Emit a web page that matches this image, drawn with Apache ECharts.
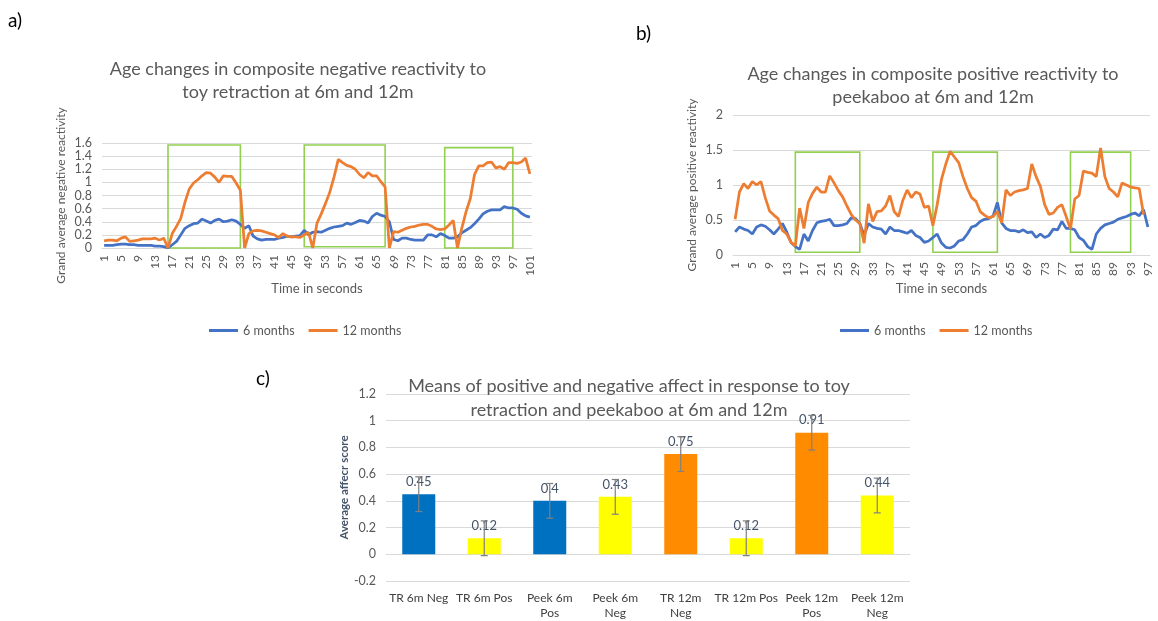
<!DOCTYPE html>
<html>
<head>
<meta charset="utf-8">
<script src="https://cdn.jsdelivr.net/npm/echarts@6/dist/echarts.min.js"></script>
<style>
  html, body { margin: 0; padding: 0; background: #ffffff; }
  #fig { width: 1158px; height: 621px; }
</style>
</head>
<body>
<div id="fig"></div>
<script>
// ---- data -------------------------------------------------------------
// (a) toy retraction: composite negative reactivity, one value per second
const secondsA = Array.from({ length: 101 }, (_, i) => String(i + 1));
const negative6m = [
  0.04, 0.04, 0.04, 0.05, 0.06, 0.06, 0.05, 0.05, 0.04, 0.04,
  0.04, 0.04, 0.03, 0.03, 0.02, 0.00, 0.05, 0.10, 0.20, 0.30,
  0.34, 0.37, 0.38, 0.44, 0.41, 0.38, 0.42, 0.44, 0.40, 0.41,
  0.43, 0.41, 0.36, 0.30, 0.34, 0.18, 0.14, 0.12, 0.13, 0.13,
  0.13, 0.15, 0.16, 0.18, 0.17, 0.18, 0.19, 0.27, 0.20, 0.24,
  0.25, 0.24, 0.27, 0.30, 0.32, 0.33, 0.34, 0.38, 0.36, 0.39,
  0.42, 0.41, 0.38, 0.48, 0.53, 0.50, 0.48, 0.40, 0.13, 0.11,
  0.15, 0.15, 0.13, 0.12, 0.12, 0.12, 0.20, 0.20, 0.17, 0.22,
  0.19, 0.15, 0.15, 0.17, 0.23, 0.27, 0.31, 0.37, 0.44, 0.52,
  0.56, 0.58, 0.58, 0.58, 0.63, 0.61, 0.61, 0.59, 0.53, 0.49,
  0.47
];
const negative12m = [
  0.11, 0.12, 0.12, 0.11, 0.15, 0.17, 0.10, 0.11, 0.12, 0.14,
  0.14, 0.14, 0.15, 0.12, 0.15, 0.00, 0.22, 0.33, 0.45, 0.70,
  0.90, 0.99, 1.04, 1.10, 1.15, 1.14, 1.08, 1.00, 1.10, 1.09,
  1.09, 0.99, 0.88, 0.00, 0.22, 0.26, 0.27, 0.26, 0.24, 0.22,
  0.20, 0.16, 0.22, 0.18, 0.17, 0.17, 0.16, 0.20, 0.24, 0.00,
  0.38, 0.52, 0.68, 0.85, 1.08, 1.35, 1.30, 1.26, 1.24, 1.20,
  1.12, 1.07, 1.15, 1.10, 1.10, 1.01, 0.93, 0.00, 0.25, 0.24,
  0.27, 0.30, 0.32, 0.33, 0.35, 0.36, 0.36, 0.33, 0.29, 0.28,
  0.29, 0.35, 0.42, 0.00, 0.30, 0.55, 0.75, 1.12, 1.25, 1.25,
  1.30, 1.31, 1.22, 1.24, 1.20, 1.30, 1.30, 1.29, 1.31, 1.37,
  1.13
];
// retraction windows: [first second, last second, top, bottom]
const retractionWindows = [
  ['16', '33', 1.57, -0.04],
  ['48', '67', 1.57, 0.02],
  ['81', '97', 1.53, -0.06]
];

// (b) peekaboo: composite positive reactivity, one value per second
const secondsB = Array.from({ length: 97 }, (_, i) => String(i + 1));
const positive6m = [
  0.33, 0.40, 0.37, 0.35, 0.30, 0.40, 0.43, 0.41, 0.36, 0.30,
  0.37, 0.45, 0.33, 0.18, 0.12, 0.08, 0.30, 0.20, 0.35, 0.46,
  0.48, 0.49, 0.51, 0.42, 0.42, 0.43, 0.45, 0.53, 0.52, 0.45,
  0.28, 0.45, 0.40, 0.38, 0.37, 0.30, 0.40, 0.35, 0.35, 0.33,
  0.31, 0.35, 0.28, 0.25, 0.18, 0.20, 0.25, 0.30, 0.17, 0.11,
  0.10, 0.13, 0.20, 0.22, 0.30, 0.40, 0.42, 0.48, 0.51, 0.52,
  0.56, 0.75, 0.46, 0.38, 0.35, 0.35, 0.33, 0.36, 0.32, 0.33,
  0.25, 0.30, 0.25, 0.28, 0.37, 0.36, 0.48, 0.38, 0.38, 0.36,
  0.25, 0.21, 0.12, 0.08, 0.30, 0.38, 0.43, 0.45, 0.47, 0.51,
  0.53, 0.55, 0.58, 0.60, 0.56, 0.65, 0.40
];
const positive12m = [
  0.51, 0.90, 1.02, 0.95, 1.05, 1.00, 1.05, 0.82, 0.63, 0.57,
  0.52, 0.35, 0.30, 0.18, 0.13, 0.67, 0.38, 0.75, 0.88, 0.97,
  0.90, 0.90, 1.13, 1.03, 0.92, 0.83, 0.70, 0.58, 0.50, 0.45,
  0.17, 0.73, 0.48, 0.62, 0.63, 0.70, 0.85, 0.62, 0.55, 0.78,
  0.93, 0.82, 0.90, 0.87, 0.68, 0.70, 0.42, 0.72, 1.08, 1.30,
  1.48, 1.40, 1.32, 1.12, 0.95, 0.82, 0.77, 0.62, 0.57, 0.53,
  0.55, 0.62, 0.46, 0.93, 0.85, 0.90, 0.92, 0.93, 0.95, 1.30,
  1.12, 0.98, 0.72, 0.58, 0.60, 0.68, 0.72, 0.55, 0.37, 0.80,
  0.85, 1.20, 1.18, 1.17, 1.12, 1.53, 1.12, 0.95, 0.90, 0.83,
  1.03, 1.00, 0.97, 0.96, 0.95, 0.58
];
const peekabooWindows = [
  ['15', '30', 1.47, 0.04],
  ['47', '62', 1.47, 0.04],
  ['79', '93', 1.47, 0.04]
];

// (c) mean affect per condition, with standard error
const affectCategories = [
  'TR 6m Neg', 'TR 6m Pos', 'Peek 6m\nPos', 'Peek 6m\nNeg',
  'TR 12m\nNeg', 'TR 12m Pos', 'Peek 12m\nPos', 'Peek 12m\nNeg'
];
const affectMeans = [0.45, 0.12, 0.4, 0.43, 0.75, 0.12, 0.91, 0.44];
const affectErrors = [0.13, 0.13, 0.13, 0.13, 0.13, 0.13, 0.13, 0.13];
// which group each bar belongs to (target affect at 6m / 12m, or the other affect)
const affectGroup = ['6m', 'other', '6m', 'other', '12m', 'other', '12m', 'other'];

// ---- styling ----------------------------------------------------------
const FONT = 'Lato, "Open Sans", "Noto Sans", sans-serif';
const GRAY = '#595959';
const GRIDLINE = '#D9D9D9';
const BLUE = '#4472C4';
const ORANGE = '#ED7D31';
const GREEN = '#92D050';
const GROUP_COLORS = { '6m': '#0070C0', '12m': '#FF8C00', other: '#FFFF00' };

function timeAxis(gridIndex, cats, nameGap) {
  return {
    gridIndex, type: 'category', data: cats, boundaryGap: true,
    axisTick: { show: false },
    axisLine: { lineStyle: { color: GRIDLINE } },
    axisLabel: { rotate: 90, interval: 3, fontSize: 12, color: GRAY, fontFamily: FONT, margin: 7 },
    name: 'Time in seconds', nameLocation: 'middle', nameGap,
    nameTextStyle: { fontSize: 13, color: GRAY, fontFamily: FONT }
  };
}
function valueAxis(gridIndex, min, max, interval, name) {
  return {
    gridIndex, type: 'value', min, max, interval,
    axisLine: { show: false }, axisTick: { show: false },
    axisLabel: { fontSize: 12.5, color: GRAY, fontFamily: FONT, margin: 10 },
    splitLine: { lineStyle: { color: GRIDLINE, width: 1 } },
    name, nameLocation: 'middle', nameRotate: 90, nameGap: 35,
    nameTextStyle: { fontSize: 12, color: GRAY, fontFamily: FONT }
  };
}
function windowBoxes(windows) {
  return {
    silent: true,
    label: { show: false },
    itemStyle: { color: 'rgba(0,0,0,0)', borderColor: GREEN, borderWidth: 1.6 },
    data: windows.map(w => [{ xAxis: w[0], yAxis: w[2] }, { xAxis: w[1], yAxis: w[3] }])
  };
}
function reactivityLine(name, data, color, axisIndex, extra) {
  return Object.assign({
    name, type: 'line', xAxisIndex: axisIndex, yAxisIndex: axisIndex, data,
    symbol: 'none', smooth: false,
    lineStyle: { width: 2.75, color }, itemStyle: { color }
  }, extra || {});
}
const titleStyle = { fontSize: 18, fontWeight: 'normal', color: GRAY, fontFamily: FONT, lineHeight: 23 };
const legendBase = {
  icon: 'rect', itemWidth: 29, itemHeight: 3, itemGap: 14, top: 319,
  data: ['6 months', '12 months'],
  textStyle: { fontSize: 12.5, color: GRAY, fontFamily: FONT }
};

const chart = echarts.init(document.getElementById('fig'), null, { renderer: 'canvas' });
chart.setOption({
  backgroundColor: '#ffffff',
  animation: false,
  textStyle: { fontFamily: FONT },
  title: [
    { text: 'Age changes in composite negative reactivity to\ntoy retraction at 6m and 12m',
      left: 293, top: 53, textAlign: 'center', textStyle: titleStyle },
    { text: 'Age changes in composite positive reactivity to\npeekaboo at 6m and 12m',
      left: 928, top: 58, textAlign: 'center', textStyle: titleStyle },
    { text: 'Means of positive and negative affect in response to toy\nretraction and peekaboo at 6m and 12m',
      left: 624, top: 369, textAlign: 'center', textStyle: Object.assign({}, titleStyle, { lineHeight: 24 }) }
  ],
  graphic: [
    { type: 'text', left: 8, top: 11, style: { text: 'a)', font: '19px ' + FONT, fill: '#000' } },
    { type: 'text', left: 636, top: 24, style: { text: 'b)', font: '19px ' + FONT, fill: '#000' } },
    { type: 'text', left: 256, top: 369, style: { text: 'c)', font: '19px ' + FONT, fill: '#000' } }
  ],
  legend: [
    Object.assign({ left: 204 }, legendBase),
    Object.assign({ left: 835 }, legendBase)
  ],
  grid: [
    { left: 102, top: 143, width: 430, height: 105 },
    { left: 733, top: 115, width: 417, height: 140 },
    { left: 386, top: 394, width: 524, height: 223 }
  ],
  xAxis: [
    timeAxis(0, secondsA, 34),
    timeAxis(1, secondsB, 27),
    {
      gridIndex: 2, type: 'category', data: affectCategories,
      axisTick: { show: false },
      axisLine: { lineStyle: { color: GRIDLINE } },
      axisLabel: { interval: 0, fontSize: 12, color: '#404040', fontFamily: FONT, margin: 10, lineHeight: 15 }
    }
  ],
  yAxis: [
    valueAxis(0, 0, 1.6, 0.2, 'Grand average negative reactivity'),
    valueAxis(1, 0, 2, 0.5, 'Grand average positive reactivity'),
    Object.assign(valueAxis(2, -0.2, 1.2, 0.2, 'Average affecr score'), {
      nameGap: 36,
      nameTextStyle: { fontSize: 11.5, fontWeight: 'bold', color: '#44546A', fontFamily: FONT }
    })
  ],
  series: [
    reactivityLine('6 months', negative6m, BLUE, 0),
    reactivityLine('12 months', negative12m, ORANGE, 0, { markArea: windowBoxes(retractionWindows) }),
    reactivityLine('6 months', positive6m, BLUE, 1),
    reactivityLine('12 months', positive12m, ORANGE, 1, { markArea: windowBoxes(peekabooWindows) }),
    {
      type: 'bar', xAxisIndex: 2, yAxisIndex: 2, barWidth: 33,
      data: affectMeans.map((v, i) => ({ value: v, itemStyle: { color: GROUP_COLORS[affectGroup[i]] } })),
      label: { show: true, position: 'top', distance: 6, fontSize: 13, color: '#44546A', fontFamily: FONT }
    },
    {
      // standard-error whiskers on each bar
      type: 'custom', xAxisIndex: 2, yAxisIndex: 2, z: 10, silent: true,
      data: affectMeans.map((v, i) => [i, v - affectErrors[i], v + affectErrors[i]]),
      renderItem(params, api) {
        const lo = api.coord([api.value(0), api.value(1)]);
        const hi = api.coord([api.value(0), api.value(2)]);
        const cap = 3.5;
        const style = { stroke: '#7F7F7F', lineWidth: 1.2 };
        return {
          type: 'group',
          children: [
            { type: 'line', shape: { x1: lo[0], y1: lo[1], x2: hi[0], y2: hi[1] }, style },
            { type: 'line', shape: { x1: hi[0] - cap, y1: hi[1], x2: hi[0] + cap, y2: hi[1] }, style },
            { type: 'line', shape: { x1: lo[0] - cap, y1: lo[1], x2: lo[0] + cap, y2: lo[1] }, style }
          ]
        };
      }
    }
  ]
});
</script>
</body>
</html>
